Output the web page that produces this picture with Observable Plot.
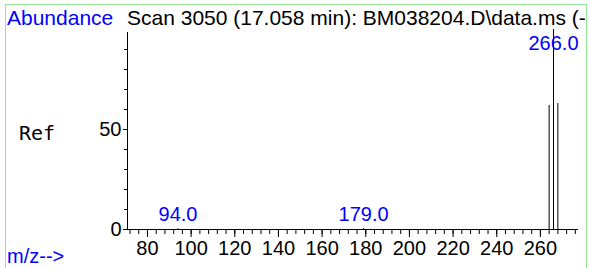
<!DOCTYPE html>
<html>
<head>
<meta charset="utf-8">
<script src="https://cdn.jsdelivr.net/npm/d3@7"></script>
<script src="https://cdn.jsdelivr.net/npm/@observablehq/plot@0.6"></script>
<style>
  html, body { margin: 0; padding: 0; background: #fff; overflow: hidden; }
  #wrap { position: relative; width: 590px; height: 268px; overflow: hidden; }
  #wrap > svg { position: absolute; left: 0; top: 0; }
  #border { position: absolute; left: 5px; top: 4px; width: 582px; height: 320px; border: 1px solid #96e896; box-sizing: border-box; }
  #overlay { position: absolute; left: 0; top: 0; pointer-events: none; }
</style>
</head>
<body>
<div id="wrap">
  <div id="border"></div>
</div>
<script>
// ---- data ----
const mz = [94, 179, 264, 266, 268];
const abundance = [0.4, 0.4, 62, 100, 63];
const labeledMz = [94, 179, 266];
const peakLabels = ["94.0", "179.0", "266.0"];
const xTicks = [80, 100, 120, 140, 160, 180, 200, 220, 240, 260];
const xMinorTicks = d3.range(72, 277, 4);
const yTicks = [0, 50];
const yMinorTicks = [10, 20, 30, 40, 60, 70, 80, 90];
const titleText = "Scan 3050 (17.058 min): BM038204.D\\data.ms (-";
const yName = "Abundance";
const xName = "m/z-->";
const refName = "Ref";

const xDomain = [70.85, 277.45];
const yAxisTop = 98.5;

const peaks = mz.map((m, i) => ({mz: m, ab: abundance[i]}));
const labels = labeledMz.map((m, i) => ({mz: m, ab: abundance[mz.indexOf(m)], text: peakLabels[i]}));

const chart = Plot.plot({
  width: 590,
  height: 268,
  marginLeft: 127,
  marginRight: 12,
  marginTop: 29,
  marginBottom: 39,
  x: {domain: xDomain},
  y: {domain: [0, 100]},
  style: {fontFamily: "'Liberation Sans', Arial, sans-serif", fontSize: "20px", background: "transparent", color: "black"},
  marks: [
    Plot.axisX({ticks: xMinorTicks, tickSize: 5, tickFormat: () => "", label: null}),
    Plot.axisX({ticks: xTicks, tickSize: 8, tickPadding: 3, label: null, fontSize: 20}),
    Plot.axisY({ticks: yMinorTicks, tickSize: 3, tickFormat: () => "", label: null}),
    Plot.axisY({ticks: yTicks, tickSize: 4, tickPadding: 2, label: null, fontSize: 20}),
    Plot.ruleY([0], {stroke: "black"}),
    Plot.ruleX([xDomain[0]], {y1: 0, y2: yAxisTop, stroke: "black"}),
    Plot.ruleX(peaks, {x: "mz", y1: 0, y2: "ab", stroke: "black"}),
    Plot.text(labels, {x: "mz", y: d => Math.min(d.ab + 4, 90), text: "text", fill: "blue", lineAnchor: "bottom", fontSize: 20})
  ]
});
const wrap = document.getElementById("wrap");
wrap.insertBefore(chart, wrap.firstChild);

// overlay texts
const ov = d3.select(wrap).append("svg").attr("id", "overlay").attr("width", 590).attr("height", 268)
  .style("font-family", "'Liberation Sans', Arial, sans-serif");
ov.append("text").attr("x", 7).attr("y", 25).attr("font-size", 21).attr("fill", "blue").text(yName);
ov.append("text").attr("x", 127).attr("y", 25).attr("font-size", 21).attr("fill", "black").text(titleText);
ov.append("text").attr("x", 19).attr("y", 140).attr("font-size", 20).attr("font-family", "'DejaVu Sans Mono', monospace").attr("fill", "black").text(refName);
ov.append("text").attr("x", 7).attr("y", 263).attr("font-size", 20).attr("fill", "blue").text(xName);
</script>
</body>
</html>
